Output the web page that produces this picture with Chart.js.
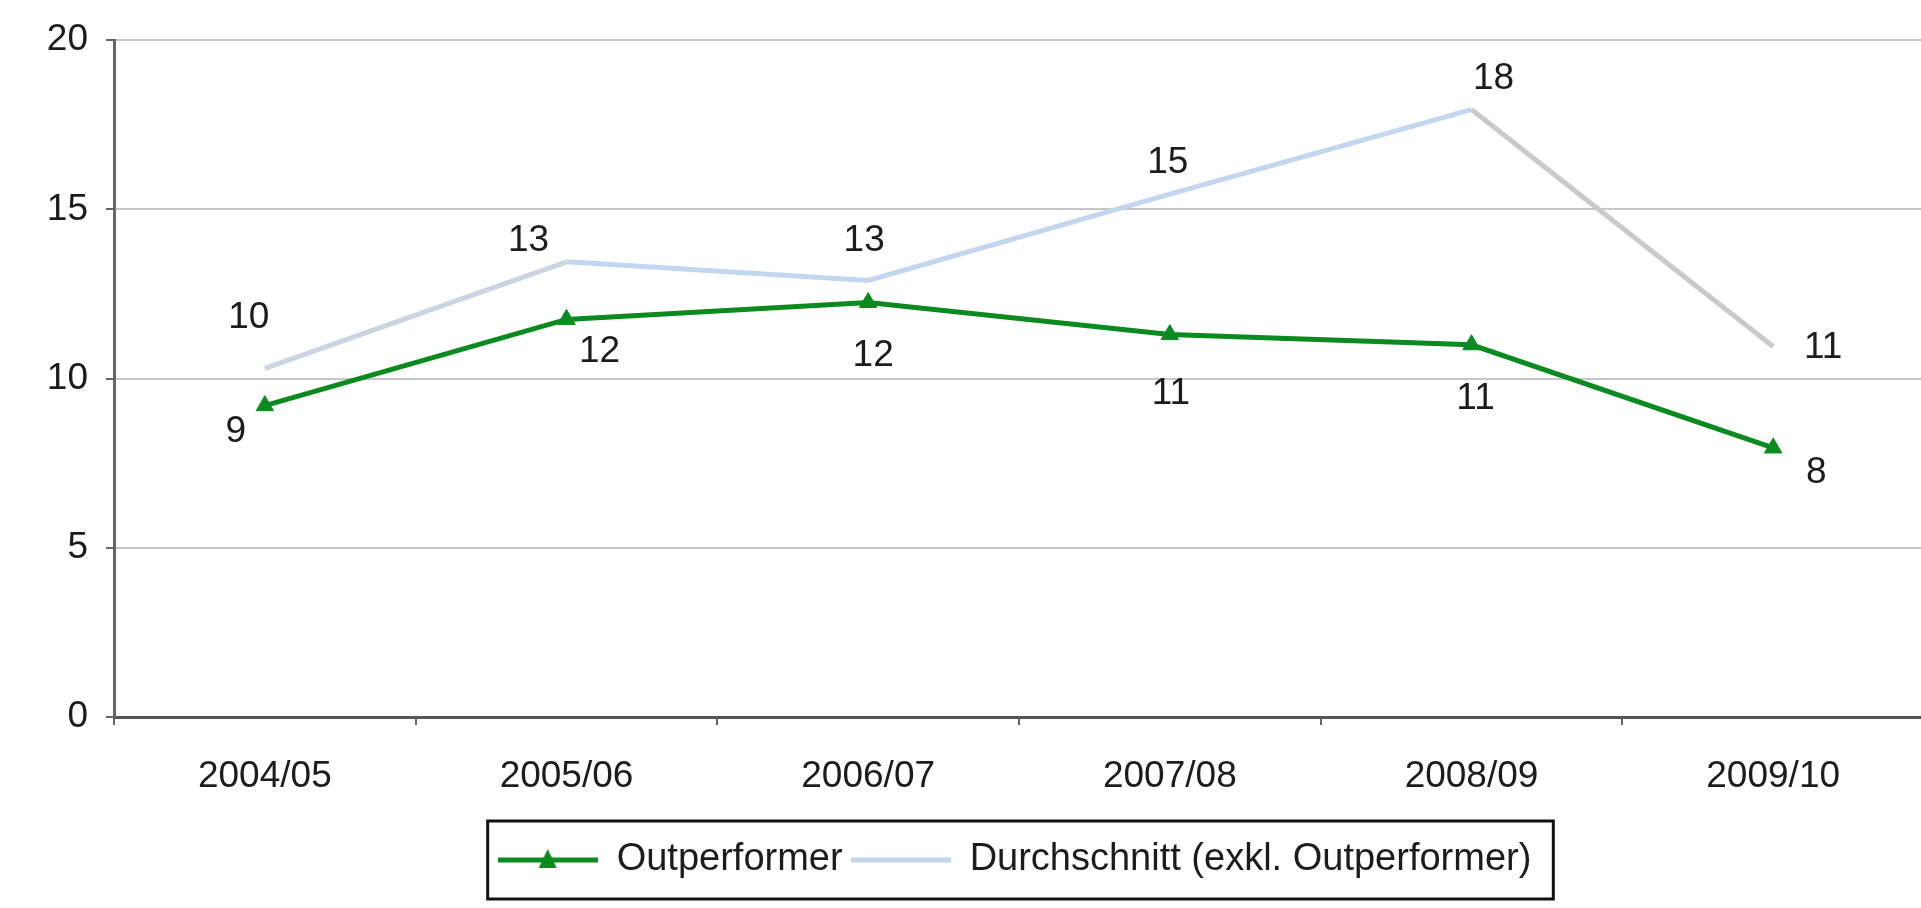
<!DOCTYPE html>
<html>
<head>
<meta charset="utf-8">
<script src="https://cdn.jsdelivr.net/npm/chart.js@4"></script>
<style>
    body { margin: 0; background: #ffffff; overflow: hidden; }
    #wrap { width: 1935px; height: 908px; }
</style>
</head>
<body>
<div id="wrap">
    <canvas id="lineChart" width="1935" height="908"></canvas>
</div>
<script>
const seasons = ["2004/05", "2005/06", "2006/07", "2007/08", "2008/09", "2009/10"];
const outperformer = [9.2, 11.75, 12.25, 11.3, 11.0, 7.95];
const durchschnitt = [10.3, 13.45, 12.9, 15.45, 17.95, 10.95];
const outperformerLabels = ["9", "12", "12", "11", "11", "8"];
const durchschnittLabels = ["10", "13", "13", "15", "18", "11"];
const yTicks = [0, 5, 10, 15, 20];

// label offsets (px) from the point, like the manual placement in the original
const greenOffsets = [[-29, 26], [33, 32], [5, 53], [1, 59], [4, 54], [43, 25]];
const blueOffsets = [[-16, -51], [-38, -21], [-4, -40], [-2, -31], [22, -31], [50, 1]];

const green = "#0b8a1f";
const lightBlue = "#c2d6ee";
const textColor = "#1c1c1c";
const fontFamily = "'Liberation Sans', Arial, sans-serif";

function legendSample(color, width, marker) {
    const c = document.createElement("canvas");
    c.width = 100;
    c.height = 26;
    const g = c.getContext("2d");
    g.strokeStyle = color;
    g.lineWidth = width;
    g.beginPath();
    g.moveTo(0, 13);
    g.lineTo(100, 13);
    g.stroke();
    if (marker) {
        g.fillStyle = color;
        g.beginPath();
        g.moveTo(50, 2);
        g.lineTo(59, 21);
        g.lineTo(41, 21);
        g.closePath();
        g.fill();
    }
    return c;
}

const samples = [legendSample(green, 5, true), legendSample(lightBlue, 5, false)];

const valueLabels = {
    id: "valueLabels",
    afterDatasetsDraw(chart) {
        const ctx = chart.ctx;
        ctx.save();
        ctx.font = "37px " + fontFamily;
        ctx.fillStyle = textColor;
        ctx.textAlign = "center";
        ctx.textBaseline = "middle";
        const sets = [[outperformerLabels, greenOffsets], [durchschnittLabels, blueOffsets]];
        sets.forEach((s, di) => {
            const meta = chart.getDatasetMeta(di);
            meta.data.forEach((pt, i) => {
                ctx.fillText(s[0][i], pt.x + s[1][i][0], pt.y + s[1][i][1]);
            });
        });
        ctx.restore();
    }
};

// centre the legend under the plot like the original (plot runs past the right edge)
const legendFrame = {
    id: "legendFrame",
    afterLayout(chart) {
        chart.legend.left = 105;
        chart.legend.right = chart.chartArea.right;
    },
    afterDraw(chart) {
        const boxes = chart.legend.legendHitBoxes;
        if (!boxes || !boxes.length) return;
        const first = boxes[0];
        const last = boxes[boxes.length - 1];
        const ctx = chart.ctx;
        ctx.save();
        ctx.strokeStyle = "#111111";
        ctx.lineWidth = 3;
        ctx.strokeRect(first.left - 10, first.top - 20, last.left + last.width + 22 - (first.left - 10), first.height + 40);
        ctx.restore();
    }
};

const ctx = document.getElementById("lineChart");

const chart = new Chart(ctx, {
    type: "line",
    data: {
        labels: seasons,
        datasets: [
            {
                label: "Outperformer",
                data: outperformer,
                borderColor: green,
                backgroundColor: green,
                borderWidth: 5,
                pointStyle: "triangle",
                pointRadius: 10,
                pointBorderWidth: 1,
                tension: 0
            },
            {
                label: "Durchschnitt (exkl. Outperformer)",
                data: durchschnitt,
                borderColor: lightBlue,
                backgroundColor: lightBlue,
                borderWidth: 5,
                pointRadius: 0,
                tension: 0,
                segment: {
                    borderColor: c => c.p1DataIndex === 5 ? "#c9c9c9" : (c.p1DataIndex === 1 ? "#cbd5e2" : lightBlue)
                }
            }
        ]
    },
    options: {
        responsive: false,
        animation: false,
        layout: {
            padding: { left: 0, right: 6, top: 34, bottom: 19 }
        },
        plugins: {
            tooltip: { enabled: false },
            legend: {
                position: "bottom",
                labels: {
                    usePointStyle: true,
                    pointStyleWidth: 100,
                    padding: 8,
                    color: textColor,
                    font: { size: 38, family: fontFamily },
                    generateLabels: (ch) => ch.data.datasets.map((ds, i) => ({
                        text: ds.label,
                        pointStyle: samples[i],
                        datasetIndex: i,
                        fontColor: textColor,
                        lineWidth: 0,
                        strokeStyle: "transparent",
                        fillStyle: "transparent"
                    }))
                }
            }
        },
        scales: {
            x: {
                offset: true,
                afterFit: (scale) => { scale.height = 116; },
                grid: {
                    offset: true,
                    drawOnChartArea: false,
                    drawTicks: true,
                    tickLength: 8,
                    tickColor: "#666666",
                    lineWidth: 2
                },
                border: { display: true, color: "#555555", width: 3 },
                ticks: {
                    color: textColor,
                    padding: 30,
                    font: { size: 37, family: fontFamily },
                    maxRotation: 0
                }
            },
            y: {
                min: 0,
                max: 20,
                afterFit: (scale) => { scale.width = 114; },
                afterBuildTicks: (scale) => { scale.ticks = yTicks.map(v => ({ value: v })); },
                grid: {
                    color: "#c6c6c6",
                    lineWidth: 2,
                    tickLength: 8,
                    tickColor: "#666666"
                },
                border: { display: true, color: "#666666", width: 3 },
                ticks: {
                    color: textColor,
                    padding: 18,
                    font: { size: 37, family: fontFamily }
                }
            }
        }
    },
    plugins: [valueLabels, legendFrame]
});
</script>
</body>
</html>
